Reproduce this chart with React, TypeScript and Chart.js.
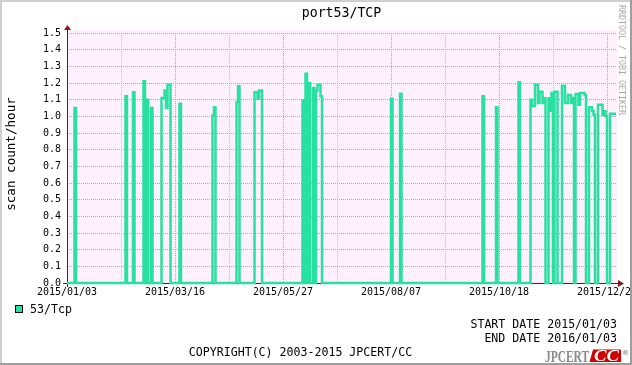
import React, { useEffect, useRef } from 'react';
import { Chart, registerables } from 'chart.js';

Chart.register(...registerables);

const W = 632;
const H = 365;

const chartTitle = 'port53/TCP';
const yAxisTitle = 'scan count/hour';
const seriesName = '53/Tcp';
const startDateText = 'START DATE 2015/01/03';
const endDateText = 'END DATE 2016/01/03';
const copyrightText = 'COPYRIGHT(C) 2003-2015 JPCERT/CC';
const watermarkText = 'RRDTOOL / TOBI OETIKER';

// x axis: days since 2015/01/03
const dayCount = 366;
const majorTickDays = [0, 72, 144, 216, 288, 360];
const majorTickLabels = ['2015/01/03', '2015/03/16', '2015/05/27', '2015/08/07', '2015/10/18', '2015/12/29'];
const minorTickDays = [36, 108, 180, 252, 324];

// y axis
const yTickLabels = ['0.0', '0.1', '0.2', '0.3', '0.4', '0.5', '0.6', '0.7', '0.8', '0.9', '1.0', '1.1', '1.2', '1.3', '1.4', '1.5'];

// days with a non-zero scan count (all other days are 0)
const activeDays = [
  5, 39, 44, 51, 53, 56,
  63, 64, 65, 66, 67, 68,
  75, 97, 98, 113, 114,
  125, 126, 127, 128, 129,
  157, 159, 161, 164, 166, 167, 168, 169,
  216, 222, 277, 286, 301,
  309, 310, 311, 312, 313, 314, 315, 316, 317, 318,
  321, 322, 323, 325, 326,
  330, 331, 332, 333, 334, 335, 336, 337,
  339, 340, 341, 342, 343, 344, 345,
  348, 349, 350, 351,
  354, 355, 356, 357, 358, 359,
  362, 363, 364, 365,
];
const activeValues = [
  1.05, 1.12, 1.145, 1.21, 1.10, 1.05,
  1.11, 1.11, 1.155, 1.05, 1.19, 1.19,
  1.075, 1.005, 1.055, 1.085, 1.18,
  1.145, 1.145, 1.105, 1.155, 1.155,
  1.095, 1.256, 1.20, 1.17, 1.155, 1.19, 1.19, 1.12,
  1.105, 1.135, 1.12, 1.055, 1.205,
  1.10, 1.06, 1.06, 1.19, 1.19, 1.08, 1.148, 1.148, 1.08, 1.108,
  1.108, 1.034, 1.14, 1.148, 1.148,
  1.184, 1.184, 1.08, 1.08, 1.128, 1.128, 1.08, 1.11,
  1.134, 1.134, 1.07, 1.14, 1.14, 1.14, 1.128,
  1.054, 1.054, 1.034, 1.01,
  1.07, 1.07, 1.07, 1.01, 1.03, 1.00,
  1.016, 1.016, 1.016, 1.016,
];

const GREEN = '#28e0a0';
const MONO = '"DejaVu Sans Mono", monospace';
const MAJOR_GRID = '#e88c9e';
const MINOR_GRID = '#d2bccb';

function buildPoints() {
  const daily: number[] = new Array(dayCount).fill(0);
  activeDays.forEach((d, i) => {
    daily[d] = activeValues[i];
  });
  const pts = daily.map((v, d) => ({ x: d, y: v }));
  pts.push({ x: dayCount, y: daily[dayCount - 1] });
  return pts;
}

const decorPlugin = {
  id: 'rrdDecor',
  beforeDraw(chart: any) {
    const { ctx, chartArea: a } = chart;
    ctx.save();
    ctx.fillStyle = '#ffffff';
    ctx.fillRect(0, 0, W, H);
    ctx.fillStyle = '#fff0fd';
    ctx.fillRect(a.left, a.top - 3, a.right - a.left + 1, a.bottom - a.top + 3);
    ctx.restore();
  },
  beforeDatasetsDraw(chart: any) {
    const { ctx, chartArea: a } = chart;
    ctx.save();
    ctx.strokeStyle = '#3a2a2a';
    ctx.lineWidth = 1;
    ctx.beginPath();
    ctx.moveTo(a.left - 4, a.bottom + 0.5);
    ctx.lineTo(a.right + 6, a.bottom + 0.5);
    ctx.moveTo(a.left + 0.5, a.bottom + 4);
    ctx.lineTo(a.left + 0.5, a.top - 5);
    ctx.stroke();
    ctx.fillStyle = '#8b1818';
    ctx.beginPath();
    ctx.moveTo(a.right + 2, a.bottom - 3);
    ctx.lineTo(a.right + 8, a.bottom + 0.5);
    ctx.lineTo(a.right + 2, a.bottom + 4);
    ctx.closePath();
    ctx.fill();
    ctx.beginPath();
    ctx.moveTo(a.left - 3, a.top - 3);
    ctx.lineTo(a.left + 0.5, a.top - 8);
    ctx.lineTo(a.left + 4, a.top - 3);
    ctx.closePath();
    ctx.fill();
    ctx.restore();
  },
  afterDraw(chart: any) {
    const { ctx, chartArea: a } = chart;
    ctx.save();
    ctx.fillStyle = '#000';
    ctx.textBaseline = 'middle';

    ctx.font = `13.2px ${MONO}`;
    ctx.textAlign = 'center';
    ctx.fillText(chartTitle, (a.left + a.right) / 2, 14);

    ctx.save();
    ctx.translate(11.5, (a.top + a.bottom) / 2 - 4);
    ctx.rotate(-Math.PI / 2);
    ctx.font = `12.6px ${MONO}`;
    ctx.textAlign = 'center';
    ctx.fillText(yAxisTitle, 0, 0);
    ctx.restore();

    ctx.save();
    ctx.translate(621.5, 60);
    ctx.rotate(Math.PI / 2);
    ctx.font = `8.3px ${MONO}`;
    ctx.fillStyle = '#a8a8a8';
    ctx.textAlign = 'center';
    ctx.fillText(watermarkText, 0, 0);
    ctx.restore();

    ctx.fillStyle = GREEN;
    ctx.fillRect(15, 305, 8, 8);
    ctx.strokeStyle = '#000';
    ctx.lineWidth = 1;
    ctx.strokeRect(15.5, 305.5, 7, 7);
    ctx.fillStyle = '#000';
    ctx.font = `11.6px ${MONO}`;
    ctx.textAlign = 'left';
    ctx.fillText(seriesName, 30, 309.5);

    ctx.textAlign = 'right';
    ctx.fillText(startDateText, 617, 324.5);
    ctx.fillText(endDateText, 617, 338.5);

    ctx.textAlign = 'center';
    ctx.fillText(copyrightText, 300.5, 352.5);

    ctx.textBaseline = 'alphabetic';
    ctx.save();
    ctx.font = 'bold 16px "Liberation Serif", serif';
    ctx.fillStyle = '#8a8a8a';
    const jw = ctx.measureText('JPCERT').width;
    ctx.translate(545, 361.5);
    ctx.scale(44 / jw, 1);
    ctx.textAlign = 'left';
    ctx.fillText('JPCERT', 0, 0);
    ctx.restore();

    ctx.fillStyle = '#d00000';
    ctx.beginPath();
    ctx.moveTo(593, 349.5);
    ctx.lineTo(621, 349.5);
    ctx.lineTo(621, 362);
    ctx.lineTo(589.5, 362);
    ctx.closePath();
    ctx.fill();

    ctx.save();
    ctx.font = 'italic bold 16px "Liberation Serif", serif';
    ctx.fillStyle = '#ffffff';
    const cw = ctx.measureText('CC').width;
    ctx.translate(594, 361);
    ctx.scale(25 / cw, 1);
    ctx.textAlign = 'left';
    ctx.fillText('CC', 0, 0);
    ctx.restore();

    ctx.fillStyle = '#777';
    ctx.font = '7px "DejaVu Sans", sans-serif';
    ctx.textAlign = 'left';
    ctx.fillText('®', 622, 355);

    ctx.fillStyle = '#cfcfcf';
    ctx.fillRect(0, 0, W, 2);
    ctx.fillRect(0, 0, 2, H);
    ctx.fillStyle = '#9e9e9e';
    ctx.fillRect(0, H - 2, W, 2);
    ctx.fillRect(W - 2, 0, 2, H);
    ctx.restore();
  },
};

export default function App() {
  const canvasRef = useRef<HTMLCanvasElement | null>(null);

  useEffect(() => {
    const canvas = canvasRef.current;
    if (!canvas) return;
    const allTicks = [...majorTickDays, ...minorTickDays].sort((p, q) => p - q);
    const chart = new Chart(canvas, {
      type: 'line',
      data: {
        datasets: [
          {
            label: seriesName,
            data: buildPoints(),
            stepped: true,
            borderColor: GREEN,
            backgroundColor: GREEN,
            borderWidth: 2.5,
            pointRadius: 0,
            fill: false,
            clip: 4,
          } as any,
        ],
      },
      options: {
        responsive: false,
        animation: false,
        devicePixelRatio: 1,
        events: [],
        layout: { padding: { left: 0, top: 33, right: 16, bottom: 62 } },
        plugins: {
          legend: { display: false },
          title: { display: false },
          tooltip: { enabled: false },
        },
        scales: {
          x: {
            type: 'linear',
            min: 0,
            max: dayCount,
            afterBuildTicks: (s: any) => {
              s.ticks = allTicks.map((v) => ({ value: v }));
            },
            afterFit: (s: any) => {
              s.height = 20;
              s.paddingLeft = 0;
              s.paddingRight = 0;
            },
            ticks: {
              autoSkip: false,
              maxRotation: 0,
              minRotation: 0,
              padding: 3,
              color: '#000',
              font: { family: MONO, size: 10 },
              callback: (v: any) => {
                const i = majorTickDays.indexOf(Number(v));
                return i >= 0 ? majorTickLabels[i] : '';
              },
            },
            grid: {
              drawTicks: false,
              lineWidth: 1,
              color: (c: any) =>
                c.tick && majorTickDays.indexOf(c.tick.value) >= 0 ? MAJOR_GRID : MINOR_GRID,
            },
            border: { display: false, dash: [1, 1] },
          },
          y: {
            type: 'linear',
            min: 0,
            max: 1.5,
            afterBuildTicks: (s: any) => {
              s.ticks = yTickLabels.map((l) => ({ value: parseFloat(l) }));
            },
            afterFit: (s: any) => {
              s.width = 67;
              s.paddingTop = 0;
              s.paddingBottom = 0;
            },
            ticks: {
              padding: 6,
              color: '#000',
              font: { family: MONO, size: 10 },
              callback: (_v: any, i: number) => yTickLabels[i],
            },
            grid: {
              drawTicks: false,
              lineWidth: 1,
              color: MAJOR_GRID,
            },
            border: { display: false, dash: [1, 1] },
          },
        },
      },
      plugins: [decorPlugin],
    } as any);
    return () => chart.destroy();
  }, []);

  return (
    <div style={{ position: 'absolute', left: 0, top: 0, width: W, height: H }}>
      <canvas ref={canvasRef} width={W} height={H} style={{ width: W, height: H, display: 'block' }} />
    </div>
  );
}
